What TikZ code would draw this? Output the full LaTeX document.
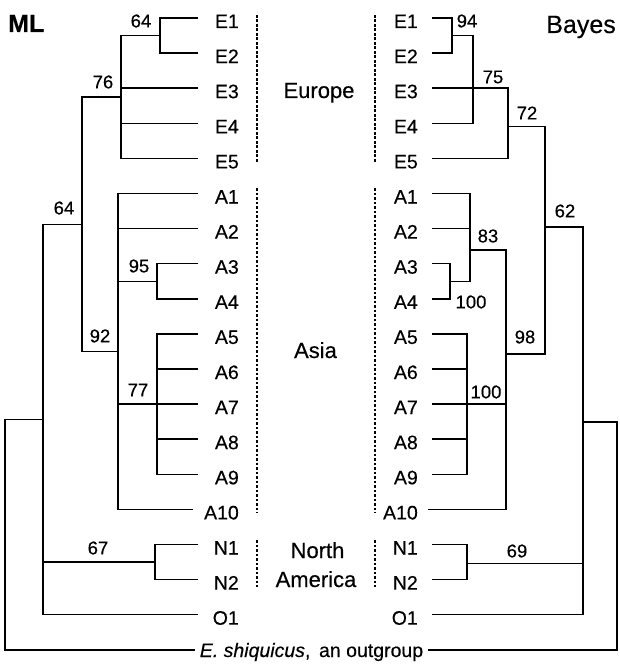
\documentclass[tikz,border=0pt]{standalone}
\usepackage{fontspec}
\setmainfont{Liberation Sans}[FakeBold=0.35]
\begin{document}
\begin{tikzpicture}[x=1pt,y=-1pt,
  br/.style={line width=1.5pt, line cap=butt, line join=miter},
  dots/.style={line width=1.8pt, dash pattern=on 2.6pt off 1.9pt},
  leaf/.style={inner sep=0pt, anchor=base east, font=\fontsize{19.5}{20}\selectfont},
  sup/.style={inner sep=0pt, anchor=center, font=\fontsize{18.5}{19}\selectfont},
  region/.style={inner sep=0pt, anchor=base, font=\fontsize{22}{23}\selectfont},
  ttl/.style={inner sep=0pt, font=\fontsize{25}{26}\selectfont}]
\useasboundingbox (0,0) rectangle (620,666);

% rows
\def\rowlist{E1/0,E2/1,E3/2,E4/3,E5/4,A1/5,A2/6,A3/7,A4/8,A5/9,A6/10,A7/11,A8/12,A9/13,A10/14,N1/15,N2/16,O1/17}
\foreach \n/\i in \rowlist {
  \pgfmathsetmacro{\yy}{18+35.1*\i}
  \node[leaf] (L\n) at (239,\yy+10) {\n};
  \node[leaf] (R\n) at (418,\yy+10) {\n};
  \coordinate (lt\n) at (198,\yy);
  \coordinate (rt\n) at (432,\yy);
}
\coordinate (ltA10) at (193,509.4);
\coordinate (rtA10) at (428,509.4);
\coordinate (ltout) at (195,649.8);
\coordinate (rtout) at (428,649.8);
\node[inner sep=0pt, anchor=base, font=\fontsize{19.5}{20}\selectfont] (out) at (311.5,657) {\textit{E. shiquicus},\, an outgroup};

% titles
\node[ttl, anchor=base west] (ML) at (8,32) {\textbf{ML}};
\node[ttl, anchor=base east] (Bayes) at (616,33) {Bayes};

% regions
\node[region] (eu) at (319,98) {Europe};
\node[region] (as) at (315.5,358) {Asia};
\node[region] (no) at (317.5,558) {North};
\node[region] (am) at (316,587) {America};

% dotted separators
\foreach \xx in {257,375} {
  \draw[dots] (\xx,15) -- (\xx,163);
  \draw[dots] (\xx,188) -- (\xx,513);
  \draw[dots] (\xx,540) -- (\xx,587);
}

% ---------- ML tree (left) ----------
\coordinate (l64a) at (160,35.55);
\coordinate (lEu) at (121,97);
\coordinate (lAs) at (118,351.5);
\coordinate (l95) at (157,281.25);
\coordinate (l77) at (157,404.1);
\coordinate (l64b) at (82,224.5);
\coordinate (lN) at (155,562);
\coordinate (lIn) at (43,419.6);
\coordinate (lRoot) at (5,534);
\draw[br] (ltE1) -| (l64a) |- (ltE2);
\draw[br] (l64a) -| (lEu) |- (ltE5);
\draw[br] (ltE3) -- (ltE3 -| lEu);
\draw[br] (ltE4) -- (ltE4 -| lEu);
\draw[br] (ltA1) -| (lAs) |- (ltA10);
\draw[br] (ltA2) -- (ltA2 -| lAs);
\draw[br] (ltA3) -| (l95) |- (ltA4);
\draw[br] (l95) -- (l95 -| lAs);
\draw[br] (ltA5) -| (l77) |- (ltA9);
\draw[br] (ltA6) -- (ltA6 -| l77);
\draw[br] (ltA8) -- (ltA8 -| l77);
\draw[br] (ltA7) -- (ltA7 -| lAs);
\draw[br] (lEu) -| (l64b) |- (lAs);
\draw[br] (ltN1) -| (lN) |- (ltN2);
\draw[br] (l64b) -| (lIn) |- (ltO1);
\draw[br] (lN) -- (lN -| lIn);
\draw[br] (lIn) -| (lRoot) |- (ltout);

\node[sup] (s1) at (141,21) {64};
\node[sup] (s2) at (103,82) {76};
\node[sup] (s3) at (64,208) {64};
\node[sup] (s4) at (139,266) {95};
\node[sup] (s5) at (100,336) {92};
\node[sup] (s6) at (138,390) {77};
\node[sup] (s7) at (98,548) {67};

% ---------- Bayes tree (right) ----------
\coordinate (r94) at (452,35.55);
\coordinate (rE124) at (473,80);
\coordinate (r75) at (508,126.5);
\coordinate (r72) at (545,227);
\coordinate (r98) at (506,354);
\coordinate (r100a) at (450,281.25);
\coordinate (rA12) at (470,250);
\coordinate (r100b) at (467,404.1);
\coordinate (r69) at (467,563.5);
\coordinate (r62) at (583,422);
\coordinate (rRoot) at (617,536);
\draw[br] (rtE1) -| (r94) |- (rtE2);
\draw[br] (r94) -| (rE124) |- (rtE4);
\draw[br] (rtE3) -| (r75) |- (rtE5);
\draw[br] (r75) -| (r72) |- (r98);
\draw[br] (rtA3) -| (r100a) |- (rtA4);
\draw[br] (rtA1) -| (rA12) |- (r100a);
\draw[br] (rtA2) -- (rtA2 -| rA12);
\draw[br] (rA12) -| (r98) |- (rtA10);
\draw[br] (rtA7) -- (rtA7 -| r98);
\draw[br] (rtA5) -| (r100b) |- (rtA9);
\draw[br] (rtA6) -- (rtA6 -| r100b);
\draw[br] (rtA8) -- (rtA8 -| r100b);
\draw[br] (rtN1) -| (r69) |- (rtN2);
\draw[br] (r72) -| (r62) |- (rtO1);
\draw[br] (r69) -- (r69 -| r62);
\draw[br] (r62) -| (rRoot) |- (rtout);

\node[sup] (t1) at (467,21) {94};
\node[sup] (t2) at (493,77) {75};
\node[sup] (t3) at (527,113) {72};
\node[sup] (t4) at (565,211) {62};
\node[sup] (t5) at (488,236) {83};
\node[sup] (t6) at (471,302) {100};
\node[sup] (t7) at (525,337) {98};
\node[sup] (t8) at (486,392) {100};
\node[sup] (t9) at (517,551) {69};
\end{tikzpicture}
\end{document}
